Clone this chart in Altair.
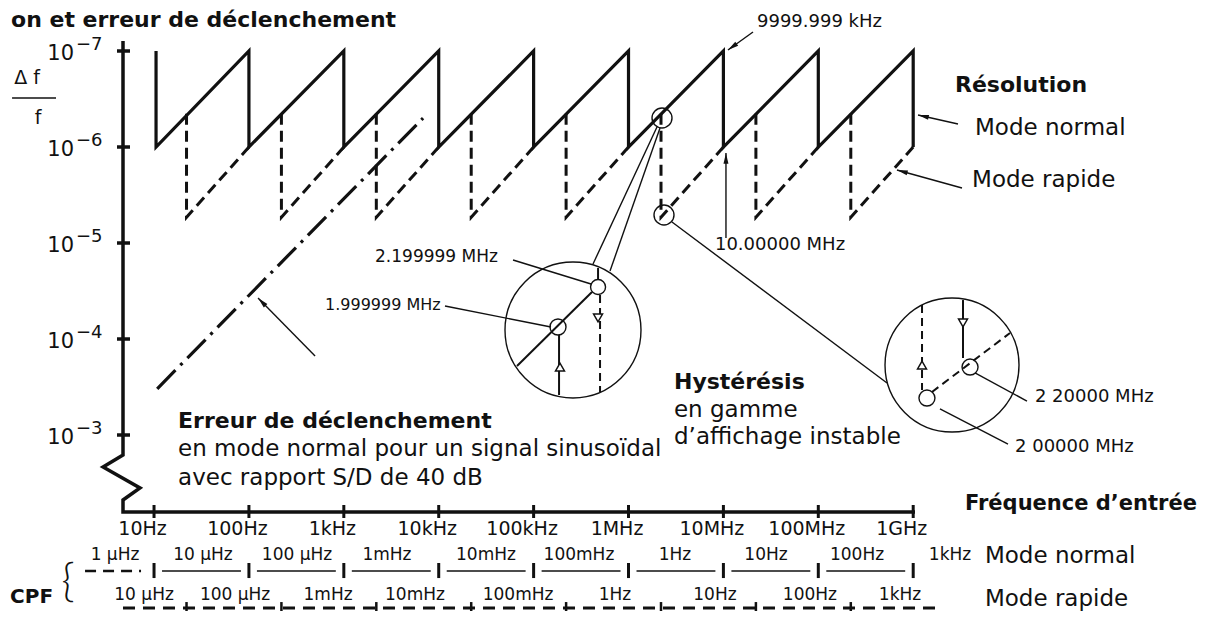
import math
import altair as alt
import pandas as pd

FONT = "DejaVu Sans"
INK = "#111111"

# ---------------- frame (log10 units) ----------------
PLOT_W, PLOT_H = 792, 467
x_domain_dec = [0.673, 9.019]        # log10(f / Hz) at left / right end of the axes
y_domain_dec = [-7.0625, -2.198]     # log10(Δf/f) at top / bottom end of the axes

# axis ticks
freq_ticks = [1e1, 1e2, 1e3, 1e4, 1e5, 1e6, 1e7, 1e8, 1e9]
freq_labels = ["10Hz", "100Hz", "1kHz", "10kHz", "100kHz", "1MHz", "10MHz", "100MHz", "1GHz"]
res_exponents = [-7, -6, -5, -4, -3]
res_exp_labels = ["\u22127", "\u22126", "\u22125", "\u22124", "\u22123"]

# Résolution - mode normal (solid sawtooth)
normal_f = [10.5, 10.5, 1e2, 1e2, 1e3, 1e3, 1e4, 1e4, 1e5, 1e5, 1e6, 1e6, 1e7, 1e7, 1e8, 1e8, 1e9, 1e9]
normal_v = [1e-7, 1e-6, 1e-7, 1e-6, 1e-7, 1e-6, 1e-7, 1e-6, 1e-7, 1e-6,
            1e-7, 1e-6, 1e-7, 1e-6, 1e-7, 1e-6, 1e-7, 1e-6]

# Résolution - mode rapide (dashed parts)
rapid_f = [2.2e1, 2.2e1, 1e2, 2.2e2, 2.2e2, 1e3, 2.2e3, 2.2e3, 1e4, 2.2e4, 2.2e4, 1e5,
           2.2e5, 2.2e5, 1e6, 2.2e6, 2.2e6, 1e7, 2.2e7, 2.2e7, 1e8, 2.2e8, 2.2e8, 1e9]
rapid_v = [4.5e-7, 5.4e-6, 1e-6, 4.5e-7, 5.4e-6, 1e-6, 4.5e-7, 5.4e-6, 1e-6, 4.5e-7, 5.4e-6, 1e-6,
           4.5e-7, 5.4e-6, 1e-6, 4.5e-7, 5.4e-6, 1e-6, 4.5e-7, 5.4e-6, 1e-6, 4.5e-7, 5.4e-6, 1e-6]
rapid_seg = [1, 1, 1, 2, 2, 2, 3, 3, 3, 4, 4, 4, 5, 5, 5, 6, 6, 6, 7, 7, 7, 8, 8, 8]

# Erreur de déclenchement (dash-dot)
trig_f = [10.8, 6840.0]
trig_v = [3.3e-4, 5.0e-7]

# axis line with break (decades)
frame_x = [0.673, 0.673, 0.463, 0.852, 0.673, 0.673, 9.019]
frame_y = [-7.104, -2.792, -2.667, -2.448, -2.323, -2.198, -2.198]

# ---------------- annotations (decades) ----------------
reg_text = ["Mode normal", "Mode rapide", "9999.999 kHz", "10.00000 MHz", "2.199999 MHz",
            "1.999999 MHz", "en gamme", "d\u2019affichage instable",
            "en mode normal pour un signal sinuso\u00efdal", "avec rapport S/D de 40 dB",
            "2 20000 MHz", "2 00000 MHz", "Mode normal", "Mode rapide"]
reg_x = [9.651, 9.620, 7.354, 6.911, 3.329, 2.802, 6.479, 6.479, 1.253, 1.253, 10.283, 10.073, 9.756, 9.756]
reg_y = [-6.198, -5.656, -7.302, -4.979, -4.854, -4.354, -3.260, -2.979, -2.854, -2.552, -3.396, -2.875, -1.740, -1.292]
reg_size = [23, 23, 18, 18, 17, 16, 23, 23, 23, 23, 18, 18, 23, 23]

bold_text = ["on et erreur de d\u00e9clenchement", "R\u00e9solution", "Hyst\u00e9r\u00e9sis",
             "Erreur de d\u00e9clenchement", "Fr\u00e9quence d\u2019entr\u00e9e", "CPF"]
bold_x = [-0.507, 9.440, 6.479, 1.253, 9.546, -0.517]
bold_y = [-7.323, -6.646, -3.552, -3.146, -2.281, -1.313]
bold_size = [22, 22, 22, 22, 21, 20]

# leader lines
lead_x1 = [7.312, 7.027, 9.472, 9.514, 2.697, 4.783, 4.066, 6.300, 6.332, 6.458, 9.651, 9.282]
lead_y1 = [-7.198, -5.052, -6.240, -5.573, -3.823, -4.823, -4.344, -6.208, -6.198, -5.219, -3.646, -3.271]
lead_x2 = [7.048, 7.027, 9.051, 8.829, 2.096, 5.605, 5.183, 5.626, 5.805, 8.724, 10.199, 9.999]
lead_y2 = [-7.010, -5.938, -6.333, -5.760, -4.427, -4.573, -4.125, -4.781, -4.708, -3.542, -3.354, -2.906]
lead_arrow = [True, True, True, True, True, False, False, False, False, False, False, False]

# circles (centre in decades, diameter px)
circ_x = [6.353, 6.374, 5.415, 9.409, 5.679, 5.257, 9.145, 9.599]
circ_y = [-6.302, -5.292, -4.094, -3.729, -4.542, -4.125, -3.385, -3.708]
circ_d = [20, 20, 136, 134, 15, 16, 16, 16]

# strokes inside the magnified views
mag_x1 = [4.825, 5.679, 5.268, 9.525]
mag_y1 = [-3.719, -4.740, -4.042, -4.406]
mag_x2 = [5.615, 5.679, 5.268, 9.525]
mag_y2 = [-4.490, -4.625, -3.417, -3.802]
magd_x1 = [5.700, 9.093, 9.198]
magd_y1 = [-4.458, -4.354, -3.448]
magd_x2 = [5.700, 9.093, 10.020]
magd_y2 = [-3.448, -3.469, -4.063]
glyph_x = [5.679, 5.278, 9.093, 9.525]
glyph_y = [-4.219, -3.708, -3.729, -4.167]
glyph_shape = ["triangle-down", "triangle-up", "triangle-up", "triangle-down"]

# CPF rows
cpf_normal_text = ["1 \u03bcHz", "10 \u03bcHz", "100 \u03bcHz", "1mHz", "10mHz", "100mHz", "1Hz", "10Hz", "100Hz", "1kHz"]
cpf_normal_x = [0.589, 1.516, 2.507, 3.455, 4.498, 5.478, 6.490, 7.449, 8.408, 9.388]
cpf_rapid_text = ["10 \u03bcHz", "100 \u03bcHz", "1mHz", "10mHz", "100mHz", "1Hz", "10Hz", "100Hz", "1kHz"]
cpf_rapid_x = [0.895, 1.854, 2.834, 3.750, 4.836, 5.858, 6.911, 7.912, 8.861]
cpf_rapid_ticks = [2.2e1, 2.2e2, 2.2e3, 2.2e4, 2.2e5, 2.2e6, 2.2e7, 2.2e8]
row_normal_label_y = -1.750
row_normal_line_y = -1.583
row_normal_tick = [-1.667, -1.510]
row_normal_first = [0.273, 0.863]
row_rapid_label_y = -1.333
row_rapid_line_y = -1.198
row_rapid_tick = [-1.260, -1.135]
row_rapid_span = [0.673, 9.230]

# ---------------- scales / encodings ----------------
xs = alt.Scale(type="log", domain=[10 ** x_domain_dec[0], 10 ** x_domain_dec[1]], nice=False)
ys = alt.Scale(type="log", domain=[10 ** y_domain_dec[0], 10 ** y_domain_dec[1]], reverse=True, nice=False)
label_array = "[" + ",".join("'%s'" % s for s in freq_labels) + "]"
xaxis = alt.Axis(values=freq_ticks, labelExpr=label_array + "[round(log(datum.value)/LN10)-1]",
                 domain=False, ticks=False, grid=False, title=None, labelPadding=16,
                 labelBaseline="middle", labelFont=FONT, labelFontSize=19, labelColor=INK,
                 labelOffset=-12, labelFlush=False, labelOverlap=False, labelBound=False)


def X(field="f"):
    return alt.X(field + ":Q", scale=xs, axis=xaxis)


def Y(field="v"):
    return alt.Y(field + ":Q", scale=ys, axis=None)


def D(vals):
    return [10 ** a for a in vals]


def texts(xd, yd, labels, sizes, bold=False, align="left", font=FONT, **kw):
    df = pd.DataFrame({"f": D(xd), "v": D(yd), "t": labels, "s": sizes})
    return alt.Chart(df).mark_text(align=align, baseline="middle", font=font,
                                   fontWeight=kw.pop("weight", "bold" if bold else "normal"),
                                   color=INK, **kw).encode(
        x=X(), y=Y(), text="t:N", size=alt.Size("s:Q", scale=None))


def segs(x1, y1, x2, y2, width, **kw):
    df = pd.DataFrame({"f": D(x1), "v": D(y1), "f2": D(x2), "v2": D(y2)})
    return alt.Chart(df).mark_rule(color=INK, strokeWidth=width, **kw).encode(
        x=X(), y=Y(), x2=alt.X2("f2"), y2=alt.Y2("v2"))


layers = []

# axes frame with break
df_frame = pd.DataFrame({"f": D(frame_x), "v": D(frame_y), "i": list(range(len(frame_x)))})
layers.append(alt.Chart(df_frame).mark_line(color=INK, strokeWidth=3.5, strokeJoin="miter").encode(
    x=X(), y=Y(), order=alt.Order("i:Q")))

# y ticks (crossing) and labels
df_yt = pd.DataFrame({"f": [10 ** x_domain_dec[0]] * len(res_exponents), "v": [10.0 ** e for e in res_exponents],
                      "base": ["10"] * len(res_exponents), "ex": res_exp_labels})
layers.append(alt.Chart(df_yt).mark_rule(color=INK, strokeWidth=3.5, xOffset=-6, x2Offset=7).encode(
    x=X(), x2=alt.X2("f"), y=Y()))
layers.append(alt.Chart(df_yt).mark_text(align="right", baseline="middle", font=FONT, fontSize=21,
                                         color=INK, dx=-49, dy=3).encode(x=X(), y=Y(), text="base:N"))
layers.append(alt.Chart(df_yt).mark_text(align="left", baseline="middle", font=FONT, fontSize=18,
                                         color=INK, dx=-47, dy=-6).encode(x=X(), y=Y(), text="ex:N"))

# x ticks (crossing)
df_xt = pd.DataFrame({"f": freq_ticks, "v": [10 ** y_domain_dec[1]] * len(freq_ticks)})
layers.append(alt.Chart(df_xt).mark_rule(color=INK, strokeWidth=3, yOffset=-7, y2Offset=6).encode(
    x=X(), y=Y(), y2=alt.Y2("v")))

# resolution curves
df_n = pd.DataFrame({"f": normal_f, "v": normal_v, "i": list(range(len(normal_f)))})
layers.append(alt.Chart(df_n).mark_line(color=INK, strokeWidth=3.2, strokeJoin="miter").encode(
    x=X(), y=Y(), order=alt.Order("i:Q")))
df_r = pd.DataFrame({"f": rapid_f, "v": rapid_v, "seg": rapid_seg, "i": list(range(len(rapid_f)))})
layers.append(alt.Chart(df_r).mark_line(color=INK, strokeWidth=3, strokeDash=[11, 6]).encode(
    x=X(), y=Y(), detail="seg:N", order=alt.Order("i:Q")))
df_t = pd.DataFrame({"f": trig_f, "v": trig_v})
layers.append(alt.Chart(df_t).mark_line(color=INK, strokeWidth=3.2, strokeDash=[26, 7, 3, 7]).encode(
    x=X(), y=Y()))

# leader lines and arrowheads
layers.append(segs(lead_x1, lead_y1, lead_x2, lead_y2, 1.4))
pxx = PLOT_W / (x_domain_dec[1] - x_domain_dec[0])
pxy = PLOT_H / (y_domain_dec[1] - y_domain_dec[0])
arr = [(x2, y2, math.degrees(math.atan2((x2 - x1) * pxx, -(y2 - y1) * pxy)) % 360)
       for x1, y1, x2, y2, a in zip(lead_x1, lead_y1, lead_x2, lead_y2, lead_arrow) if a]
df_arr = pd.DataFrame({"f": D([a[0] for a in arr]), "v": D([a[1] for a in arr]), "a": [a[2] for a in arr]})
ARROW = "M0,0L0.55,2.4L-0.55,2.4Z"
layers.append(alt.Chart(df_arr).mark_point(shape=ARROW, filled=True, color=INK, opacity=1, size=81).encode(
    x=X(), y=Y(), angle=alt.Angle("a:Q", scale=None)))

# magnifier circles and contents
df_c = pd.DataFrame({"f": D(circ_x), "v": D(circ_y), "s": [d * d for d in circ_d]})
layers.append(alt.Chart(df_c).mark_point(shape="circle", filled=False, color=INK, strokeWidth=1.4,
                                         opacity=1).encode(x=X(), y=Y(), size=alt.Size("s:Q", scale=None)))
layers.append(segs(mag_x1, mag_y1, mag_x2, mag_y2, 2))
layers.append(segs(magd_x1, magd_y1, magd_x2, magd_y2, 2, strokeDash=[8, 5]))
df_g = pd.DataFrame({"f": D(glyph_x), "v": D(glyph_y), "sh": glyph_shape})
layers.append(alt.Chart(df_g).mark_point(filled=True, fill="white", stroke=INK, strokeWidth=1.5,
                                         opacity=1, size=80).encode(
    x=X(), y=Y(), shape=alt.Shape("sh:N", scale=None)))

# fraction bar of Δf/f
layers.append(segs([-0.496], [-6.510], [-0.033], [-6.510], 1.6))

# CPF rows
df_nt = pd.DataFrame({"f": freq_ticks, "v": [10 ** row_normal_tick[0]] * 9, "v2": [10 ** row_normal_tick[1]] * 9})
layers.append(alt.Chart(df_nt).mark_rule(color=INK, strokeWidth=3).encode(x=X(), y=Y(), y2=alt.Y2("v2")))
df_nl = pd.DataFrame({"f": freq_ticks[:-1], "f2": freq_ticks[1:], "v": [10 ** row_normal_line_y] * 8})
layers.append(alt.Chart(df_nl).mark_rule(color=INK, strokeWidth=1.5, xOffset=8, x2Offset=-8).encode(
    x=X(), x2=alt.X2("f2"), y=Y()))
layers.append(segs([row_normal_first[0]], [row_normal_line_y], [row_normal_first[1]], [row_normal_line_y],
                   2.6, strokeDash=[11, 7]))
layers.append(segs([row_rapid_span[0]], [row_rapid_line_y], [row_rapid_span[1]], [row_rapid_line_y],
                   3, strokeDash=[12, 8]))
df_rt = pd.DataFrame({"f": cpf_rapid_ticks, "v": [10 ** row_rapid_tick[0]] * 8, "v2": [10 ** row_rapid_tick[1]] * 8})
layers.append(alt.Chart(df_rt).mark_rule(color=INK, strokeWidth=2.5).encode(x=X(), y=Y(), y2=alt.Y2("v2")))
layers.append(texts(cpf_normal_x, [row_normal_label_y] * len(cpf_normal_x), cpf_normal_text,
                    [17] * len(cpf_normal_x), align="center"))
layers.append(texts(cpf_rapid_x, [row_rapid_label_y] * len(cpf_rapid_x), cpf_rapid_text,
                    [17] * len(cpf_rapid_x), align="center"))

# texts
layers.append(texts(reg_x, reg_y, reg_text, reg_size))
layers.append(texts(bold_x, bold_y, bold_text, bold_size, bold=True))
layers.append(texts([-0.338, -0.222], [-6.719, -6.302], ["\u0394 f", "f"], [19, 19], align="center"))
layers.append(texts([0.094], [-1.469], ["{"], [46], align="center", font="Lato", weight=300))

chart = alt.layer(*layers).properties(
    width=PLOT_W, height=PLOT_H,
    padding={"left": 115, "top": 37, "right": 285, "bottom": 99},
    autosize=alt.AutoSizeParams(type="none"),
    background="white",
).configure_view(strokeWidth=0)

chart.save("out.html", embed_options={"renderer": "svg", "actions": False})
